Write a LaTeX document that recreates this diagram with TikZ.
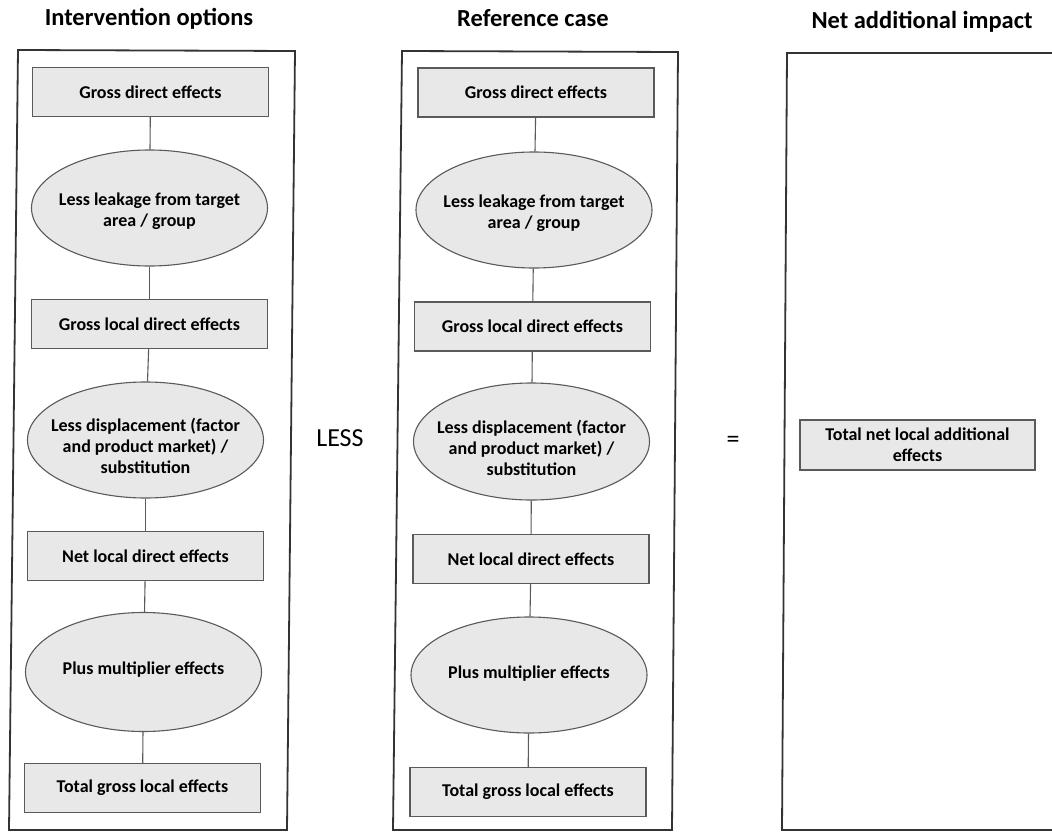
\documentclass[tikz,border=0pt]{standalone}
\usepackage{fontspec}
\setmainfont{Carlito}
\usetikzlibrary{shapes.geometric}
\definecolor{boxline}{HTML}{5A5A5A}
\definecolor{boxfill}{HTML}{E8E8E8}
\definecolor{panelline}{HTML}{333333}
\begin{document}
\begin{tikzpicture}[x=1pt,y=-1pt,
  txt/.style={font=\bfseries\fontsize{18}{21}\selectfont, align=center, text=black},
  box/.style={txt, draw=boxline, fill=boxfill, line width=1.1pt, minimum width=236pt, minimum height=49pt, inner sep=0pt},
  ell/.style={ellipse, draw=boxline, fill=boxfill, line width=1.1pt, inner sep=0pt, minimum width=236pt},
  etext/.style={txt, inner sep=0pt},
  conn/.style={draw=boxline, line width=1.1pt},
  panel/.style={draw=panelline, line width=1.8pt},
  title/.style={font=\bfseries\fontsize{24.5}{28}\selectfont, anchor=base},
  op/.style={font=\fontsize{26}{30}\selectfont}]
\clip (0,0) rectangle (1052,832);
\fill[white] (0,0) rectangle (1052,832);

% titles
\node[title] (t1) at (149,26) {Intervention options};
\node[title] (t2) at (533,27) {Reference case};
\node[title] (t3) at (922,29) {Net additional impact};

% panels
\draw[panel] (18,50) -- (295,51) -- (287,830) -- (9,830) -- cycle;
\draw[panel] (402,51) -- (678,52) -- (672,830) -- (393,830) -- cycle;
\draw[panel] (787,53) -- (1070,53) -- (1070,830) -- (782,830) -- cycle;

% left column
\node[box] (L1) at (150.5,92) {Gross direct effects};
\node[ell, minimum height=116pt, label={[etext,yshift=-3pt]center:{Less leakage from target\\area / group}}] (L2) at (149.5,208) {};
\node[box] (L3) at (149.5,324) {Gross local direct effects};
\node[ell, minimum height=116pt, label={[etext,yshift=-6pt]center:{Less displacement (factor\\and product market) /\\substitution}}] (L4) at (145.5,440) {};
\node[box] (L5) at (145.5,556) {Net local direct effects};
\node[ell, minimum height=119pt, label={[etext,yshift=2pt]center:{Plus multiplier effects}}] (L6) at (143.5,672) {};
\node[box] (L7) at (142.5,788) {Total gross local effects};

% middle column
\node[box] (M1) at (536,92.5) {Gross direct effects};
\node[ell, minimum height=116pt, label={[etext,yshift=-3pt]center:{Less leakage from target\\area / group}}] (M2) at (534,210) {};
\node[box] (M3) at (532.5,326.5) {Gross local direct effects};
\node[ell, minimum height=117pt, label={[etext,yshift=-6pt]center:{Less displacement (factor\\and product market) /\\substitution}}] (M4) at (531.5,441.5) {};
\node[box] (M5) at (531,559) {Net local direct effects};
\node[ell, minimum height=116pt, label={[etext,yshift=1pt]center:{Plus multiplier effects}}] (M6) at (529,675) {};
\node[box] (M7) at (528,792) {Total gross local effects};

% right column
\node[box, minimum width=235pt, minimum height=50pt] (R1) at (917.5,445) {Total net local additional\\effects};

% operators
\node[op] (less) at (340,438) {LESS};
\node[op] (eq) at (733,442) {=};

% connectors
\draw[conn] (L1) -- (L2);
\draw[conn] (L2) -- (L3);
\draw[conn] (L3) -- (L4);
\draw[conn] (L4) -- (L5);
\draw[conn] (L5) -- (L6);
\draw[conn] (L6) -- (L7);
\draw[conn] (M1) -- (M2);
\draw[conn] (M2) -- (M3);
\draw[conn] (M3) -- (M4);
\draw[conn] (M4) -- (M5);
\draw[conn] (M5) -- (M6);
\draw[conn] (M6) -- (M7);
\end{tikzpicture}
\end{document}
